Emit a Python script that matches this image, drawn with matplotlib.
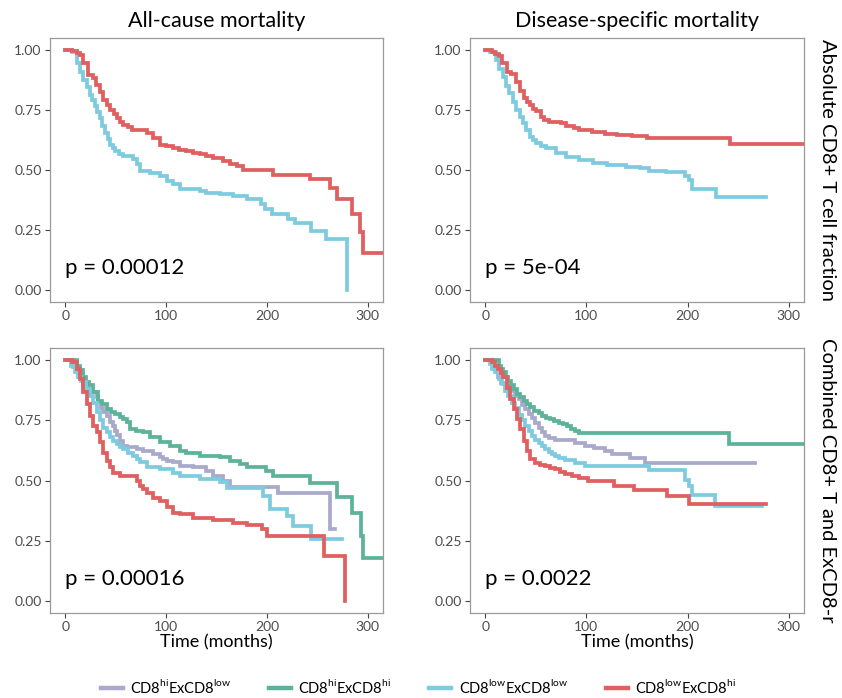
import matplotlib
matplotlib.use('Agg')
import matplotlib.pyplot as plt
from matplotlib.lines import Line2D

plt.rcParams['font.family'] = ['Lato', 'DejaVu Sans']

# survival curves as (time in months, survival probability) steps
acm_abs_low = [(0, 1.0), (6.6, 0.993), (11.5, 0.945), (15, 0.91), (18, 0.876), (21.5, 0.845),
               (24.7, 0.813), (27, 0.79), (29.7, 0.765), (32, 0.74), (34.6, 0.716), (37, 0.685),
               (39.6, 0.654), (42, 0.63), (44.5, 0.606), (47, 0.59), (49.5, 0.578), (53, 0.567),
               (57.7, 0.557), (67.6, 0.544), (70.9, 0.523), (74.2, 0.495), (84, 0.488), (94, 0.474),
               (100.6, 0.454), (107, 0.44), (113.7, 0.419), (133.5, 0.412), (140, 0.405), (153, 0.398),
               (166.5, 0.391), (180, 0.378), (194, 0.357), (198, 0.336), (204.6, 0.315), (221, 0.295),
               (227.7, 0.281), (244, 0.246), (259, 0.212), (279, 0.0)]
acm_abs_high = [(0, 1.0), (7, 0.997), (11.5, 0.989), (15, 0.979), (18, 0.945), (23, 0.896),
                (28, 0.882), (31, 0.855), (34.6, 0.827), (38, 0.793), (41, 0.77), (44.5, 0.751),
                (48, 0.733), (51, 0.716), (54, 0.70), (57.7, 0.689), (62, 0.678), (66, 0.668),
                (81, 0.654), (87.4, 0.633), (94, 0.606), (100, 0.60), (107, 0.592), (113, 0.585),
                (120, 0.578), (127, 0.572), (133.5, 0.568), (140, 0.56), (146.7, 0.55), (156.6, 0.537),
                (163, 0.523), (170, 0.515), (176, 0.50), (206, 0.481), (242.6, 0.463), (262, 0.426),
                (269, 0.378), (284, 0.315), (292, 0.24), (295.4, 0.156), (330, 0.156)]

dsm_abs_low = [(0, 1.0), (5, 0.99), (11, 0.958), (14, 0.92), (17.5, 0.889), (21, 0.85), (24, 0.82),
               (27, 0.785), (30.7, 0.75), (34, 0.72), (37, 0.694), (40, 0.665), (44, 0.639),
               (47, 0.625), (50, 0.611), (55, 0.60), (60, 0.59), (70, 0.569), (80, 0.556),
               (93, 0.542), (106.5, 0.528), (120, 0.521), (139.5, 0.514), (152.6, 0.507),
               (162, 0.497), (179, 0.49), (197, 0.475), (201, 0.46), (204, 0.419), (228, 0.389),
               (277, 0.389)]
dsm_abs_high = [(0, 1.0), (7, 0.99), (10, 0.985), (14, 0.975), (17, 0.944), (22, 0.91), (26, 0.90),
                (30, 0.865), (34, 0.83), (38, 0.80), (41, 0.785), (44, 0.77), (47, 0.755),
                (50, 0.745), (55, 0.72), (58, 0.71), (63, 0.70), (75, 0.695), (80, 0.685),
                (88, 0.675), (93, 0.667), (106, 0.66), (118, 0.65), (130, 0.645), (145, 0.64),
                (160, 0.635), (242, 0.607), (330, 0.607)]

acm_hi_low = [(0, 1.0), (8, 0.97), (13, 0.945), (18, 0.89), (21.5, 0.88), (28, 0.866), (31.3, 0.845),
              (33, 0.824), (36, 0.803), (38, 0.785), (41, 0.769), (44.5, 0.741), (47, 0.725),
              (49.5, 0.706), (51, 0.69), (54.5, 0.665), (57.7, 0.644), (61, 0.637), (71, 0.63),
              (77.5, 0.623), (87, 0.609), (94, 0.596), (97, 0.589), (100.6, 0.582), (107, 0.575),
              (114, 0.561), (127, 0.554), (140, 0.54), (146.7, 0.519), (156.6, 0.499), (163, 0.475),
              (211, 0.45), (262.4, 0.298), (267, 0.298)]
acm_hi_hi = [(0, 1.0), (12, 0.975), (15, 0.959), (18, 0.93), (21, 0.91), (24, 0.897), (28, 0.866),
             (33, 0.831), (37, 0.817), (41, 0.796), (45, 0.785), (49.5, 0.776), (54, 0.762),
             (57.7, 0.755), (61, 0.741), (64, 0.713), (70, 0.705), (77.5, 0.70), (84, 0.679),
             (94, 0.658), (104, 0.644), (114, 0.623), (120, 0.616), (133.5, 0.602), (153, 0.596),
             (163, 0.582), (173, 0.568), (180, 0.554), (199.5, 0.54), (206, 0.519), (242.6, 0.488),
             (269.6, 0.43), (283.8, 0.367), (293, 0.27), (295.4, 0.18), (330, 0.18)]
acm_low_low = [(0, 1.0), (6, 0.975), (10, 0.949), (13, 0.93), (16, 0.915), (18, 0.907), (21, 0.88),
               (24.7, 0.852), (28, 0.82), (31.3, 0.783), (34.6, 0.75), (38, 0.72), (41, 0.70),
               (44.5, 0.679), (47.8, 0.665), (51, 0.651), (54.4, 0.64), (57.7, 0.63), (62, 0.615),
               (67.6, 0.602), (71, 0.588), (74, 0.575), (80.8, 0.554), (94, 0.547), (107, 0.533),
               (113.7, 0.519), (133.5, 0.506), (153, 0.492), (160, 0.467), (196, 0.436),
               (203, 0.381), (219.5, 0.353), (226, 0.312), (244, 0.256), (274, 0.256)]
acm_low_hi = [(0, 1.0), (6.6, 0.99), (11.5, 0.963), (14.8, 0.921), (18, 0.866), (21.4, 0.817),
              (24.7, 0.769), (28, 0.727), (31.3, 0.70), (34.6, 0.658), (38, 0.616), (41.2, 0.582),
              (44.5, 0.554), (47.8, 0.533), (54.4, 0.519), (71, 0.499), (74, 0.478), (77.5, 0.465),
              (80.8, 0.45), (87.4, 0.429), (94, 0.416), (100.6, 0.388), (107, 0.367), (113.7, 0.36),
              (127, 0.346), (146.7, 0.337), (166.5, 0.325), (180, 0.315), (194.7, 0.298),
              (199.7, 0.27), (257, 0.187), (277, 0.0)]

dsm_hi_low = [(0, 1.0), (8, 0.97), (13, 0.928), (16, 0.905), (19.8, 0.893), (26, 0.872), (29.7, 0.85),
              (33, 0.8375), (36, 0.815), (39.6, 0.796), (42.9, 0.775), (46, 0.761), (49.5, 0.74),
              (52.7, 0.72), (56, 0.70), (59.3, 0.685), (63, 0.675), (69, 0.67), (89, 0.657),
              (99, 0.643), (108, 0.636), (118.7, 0.622), (125, 0.608), (143.4, 0.594),
              (158, 0.574), (267, 0.574)]
dsm_hi_hi = [(0, 1.0), (13.2, 0.975), (16, 0.9625), (18, 0.949), (20.5, 0.93), (23, 0.914),
             (25.5, 0.895), (28, 0.879), (31, 0.86), (34.6, 0.845), (38, 0.83), (41, 0.817),
             (44, 0.805), (47.8, 0.789), (52.8, 0.78), (56, 0.768), (60, 0.76), (64.3, 0.754),
             (68, 0.747), (72.5, 0.74), (77, 0.733), (80.7, 0.726), (85, 0.715), (89, 0.705),
             (93, 0.699), (240.7, 0.653), (330, 0.653)]
dsm_low_low = [(0, 1.0), (5, 0.985), (7, 0.9625), (10, 0.95), (13.2, 0.92), (16.5, 0.9), (19.8, 0.87),
               (23, 0.85), (26.4, 0.82), (29, 0.8), (33, 0.77), (36, 0.75), (39.6, 0.725),
               (43, 0.705), (46, 0.685), (49.5, 0.67), (52.7, 0.655), (56, 0.645), (59.3, 0.632),
               (63, 0.62), (66, 0.61), (69, 0.60), (72.5, 0.594), (79, 0.585), (89, 0.572),
               (99, 0.56), (161.5, 0.542), (197.8, 0.504), (201, 0.476), (204.4, 0.439),
               (227.5, 0.393), (273.6, 0.393)]
dsm_low_hi = [(0, 1.0), (6.6, 0.99), (10, 0.975), (13, 0.9625), (16, 0.945), (18, 0.928), (21.4, 0.886),
              (24.7, 0.8375), (28, 0.796), (31.3, 0.754), (34.6, 0.7125), (38, 0.664), (41, 0.622),
              (44.5, 0.5875), (49.5, 0.574), (54, 0.565), (59.3, 0.56), (64, 0.553), (69, 0.546),
              (74, 0.535), (79, 0.525), (86, 0.518), (92.3, 0.511), (102, 0.497), (127, 0.476),
              (146.7, 0.46), (179.6, 0.435), (201, 0.404), (277, 0.404)]

col_titles = ["All-cause mortality", "Disease-specific mortality"]
row_titles = ["Absolute CD8+ T cell fraction", "Combined CD8+ T and ExCD8-r"]
pvals = [["p = 0.00012", "p = 5e-04"], ["p = 0.00016", "p = 0.0022"]]
group_labels = [r"CD8$^{\mathregular{hi}}$ExCD8$^{\mathregular{low}}$",
                r"CD8$^{\mathregular{hi}}$ExCD8$^{\mathregular{hi}}$",
                r"CD8$^{\mathregular{low}}$ExCD8$^{\mathregular{low}}$",
                r"CD8$^{\mathregular{low}}$ExCD8$^{\mathregular{hi}}$"]
c_lav, c_green, c_cyan, c_red = "#A9A9CC", "#5DB399", "#7ECBE0", "#E05F60"

panels = [
    [[(acm_abs_low, c_cyan), (acm_abs_high, c_red)],
     [(dsm_abs_low, c_cyan), (dsm_abs_high, c_red)]],
    [[(acm_hi_low, c_lav), (acm_hi_hi, c_green), (acm_low_low, c_cyan), (acm_low_hi, c_red)],
     [(dsm_hi_low, c_lav), (dsm_hi_hi, c_green), (dsm_low_low, c_cyan), (dsm_low_hi, c_red)]],
]

W, H = 842, 698
fig = plt.figure(figsize=(W / 100, H / 100), dpi=100)
lefts = [50, 470]
tops = [38, 348]
heights = [264, 265]
widths = [333, 334]

for r in range(2):
    for c in range(2):
        ax = fig.add_axes([lefts[c] / W, 1 - (tops[r] + heights[r]) / H, widths[c] / W, heights[r] / H])
        for curve, col in panels[r][c]:
            t = [p[0] for p in curve]
            s = [p[1] for p in curve]
            ax.step(t, s, where='post', color=col, lw=2.7, solid_joinstyle='miter')
        ax.set_xlim(-15, 315)
        ax.set_ylim(-0.05, 1.05)
        ax.set_xticks([0, 100, 200, 300])
        ax.set_yticks([0, 0.25, 0.5, 0.75, 1.0])
        ax.set_yticklabels(["0.00", "0.25", "0.50", "0.75", "1.00"])
        ax.tick_params(colors="#444444", labelcolor="#4d4d4d", labelsize=10, length=3.5, width=0.8, pad=2.5)
        for sp in ax.spines.values():
            sp.set_color("#9a9a9a")
            sp.set_linewidth(0.9)
        ax.text(0, 0.09, pvals[r][c], fontsize=16, ha='left', va='center', color="black")
        if r == 0:
            ax.set_title(col_titles[c], fontsize=15.5, pad=8)
        else:
            ax.set_xlabel("Time (months)", fontsize=13, labelpad=1)

for r in range(2):
    yc = tops[r] + heights[r] / 2
    fig.text(828 / W, 1 - yc / H, row_titles[r], rotation=-90, ha='center', va='center', fontsize=14.5)

handles = [Line2D([], [], color=col, lw=3.2) for col in (c_lav, c_green, c_cyan, c_red)]
fig.legend(handles, group_labels, loc='center', bbox_to_anchor=(0.497, 1 - 687 / H), ncol=4,
           frameon=False, fontsize=10.5, handlelength=1.5, columnspacing=2.6, handletextpad=0.5)

fig.savefig("out.png", dpi=100)
